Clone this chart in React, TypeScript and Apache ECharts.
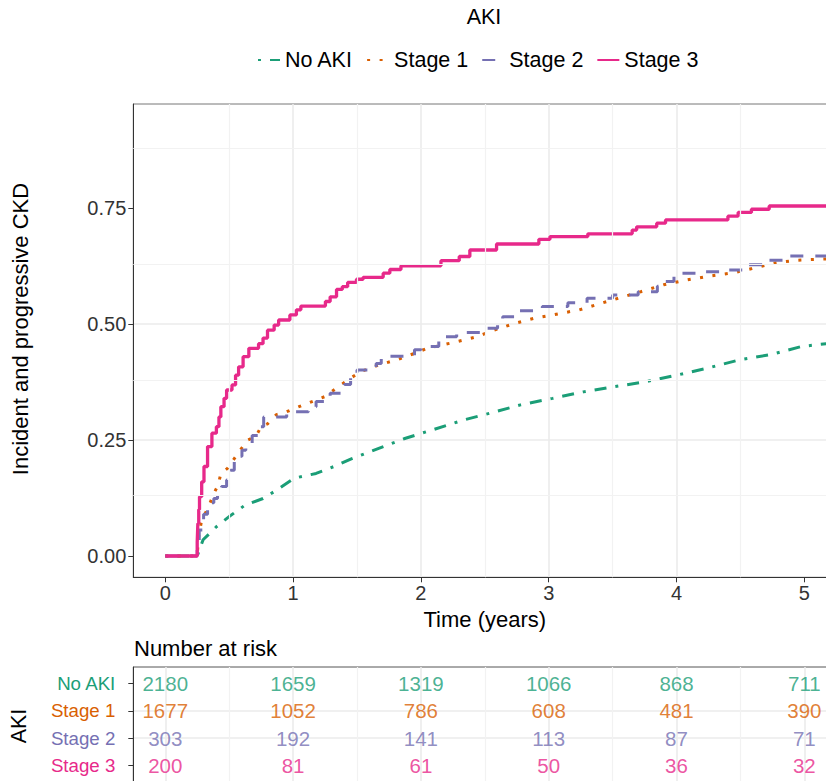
import React, { useEffect, useRef } from 'react';
import * as echarts from 'echarts';

const FONT = '"Liberation Sans", Arial, Helvetica, sans-serif';

const groups = ['No AKI', 'Stage 1', 'Stage 2', 'Stage 3'];
const colors = ['#1B9E77', '#D95F02', '#7570B3', '#E7298A'];

// Cumulative incidence curves (time in years, probability)
const noAkiTime = [0, 0.25, 0.296, 0.4, 0.5, 0.626, 0.765, 0.87, 1.01, 1.18, 1.32, 1.46, 1.67, 1.88, 2.09, 2.33, 2.54, 2.78, 3.03, 3.27, 3.51, 3.76, 4.0, 4.24, 4.49, 4.73, 4.98, 5.3];
const noAkiCif = [0, 0, 0.035, 0.063, 0.085, 0.11, 0.124, 0.142, 0.168, 0.178, 0.193, 0.21, 0.232, 0.254, 0.272, 0.293, 0.308, 0.326, 0.34, 0.354, 0.365, 0.376, 0.39, 0.405, 0.423, 0.434, 0.452, 0.462];

const stage1Time = [0, 0.25, 0.26, 0.28, 0.31, 0.35, 0.38, 0.414, 0.435, 0.487, 0.54, 0.578, 0.644, 0.709, 0.75, 0.8, 0.87, 0.93, 1.01, 1.11, 1.25, 1.34, 1.43, 1.53, 1.67, 1.81, 1.95, 2.05, 2.23, 2.44, 2.57, 2.75, 2.89, 3.03, 3.24, 3.41, 3.58, 3.72, 3.9, 4.07, 4.24, 4.45, 4.59, 4.77, 4.94, 5.1, 5.3];
const stage1Cif = [0, 0, 0.04, 0.07, 0.09, 0.114, 0.135, 0.153, 0.178, 0.189, 0.21, 0.225, 0.25, 0.258, 0.279, 0.285, 0.305, 0.309, 0.318, 0.329, 0.344, 0.362, 0.38, 0.398, 0.412, 0.423, 0.437, 0.448, 0.459, 0.473, 0.487, 0.503, 0.513, 0.52, 0.531, 0.545, 0.559, 0.57, 0.585, 0.595, 0.603, 0.611, 0.62, 0.632, 0.638, 0.64, 0.642];

const stage2Time = [0, 0.25, 0.266, 0.3, 0.331, 0.36, 0.38, 0.409, 0.44, 0.48, 0.51, 0.54, 0.565, 0.6, 0.63, 0.68, 0.73, 0.77, 0.95, 1.12, 1.18, 1.25, 1.29, 1.4, 1.45, 1.5, 1.65, 1.69, 1.95, 2.0, 2.14, 2.16, 2.28, 2.48, 2.6, 2.64, 2.76, 2.95, 3.15, 3.3, 3.5, 3.7, 3.85, 3.9, 3.98, 4.15, 4.36, 4.54, 4.7, 4.88, 5.3];
const stage2Cif = [0, 0.02, 0.056, 0.09, 0.1, 0.115, 0.124, 0.131, 0.15, 0.164, 0.185, 0.207, 0.215, 0.228, 0.243, 0.26, 0.279, 0.3, 0.311, 0.322, 0.333, 0.343, 0.351, 0.37, 0.385, 0.401, 0.415, 0.431, 0.445, 0.452, 0.465, 0.473, 0.482, 0.491, 0.505, 0.516, 0.529, 0.538, 0.546, 0.556, 0.563, 0.57, 0.582, 0.592, 0.61, 0.613, 0.617, 0.628, 0.638, 0.647, 0.647];

const stage3Time = [0, 0.25, 0.255, 0.262, 0.268, 0.285, 0.303, 0.331, 0.365, 0.4, 0.42, 0.435, 0.46, 0.48, 0.522, 0.55, 0.574, 0.609, 0.654, 0.73, 0.765, 0.8, 0.852, 0.887, 0.975, 1.026, 1.061, 1.253, 1.29, 1.34, 1.385, 1.427, 1.496, 1.548, 1.705, 1.757, 1.844, 2.157, 2.3, 2.383, 2.592, 2.923, 3.01, 3.306, 3.653, 3.688, 3.845, 3.914, 4.402, 4.482, 4.586, 4.725, 5.3];
const stage3Cif = [0, 0.03, 0.07, 0.1, 0.128, 0.16, 0.193, 0.236, 0.265, 0.279, 0.3, 0.322, 0.34, 0.358, 0.369, 0.39, 0.408, 0.43, 0.448, 0.458, 0.47, 0.487, 0.498, 0.509, 0.52, 0.531, 0.539, 0.549, 0.559, 0.575, 0.581, 0.59, 0.597, 0.601, 0.61, 0.618, 0.626, 0.637, 0.646, 0.66, 0.673, 0.683, 0.689, 0.695, 0.703, 0.71, 0.718, 0.725, 0.733, 0.741, 0.748, 0.755, 0.755];

// Number at risk table
const riskTimes = [0, 1, 2, 3, 4, 5];
const riskNoAki = [2180, 1659, 1319, 1066, 868, 711];
const riskStage1 = [1677, 1052, 786, 608, 481, 390];
const riskStage2 = [303, 192, 141, 113, 87, 71];
const riskStage3 = [200, 81, 61, 50, 36, 32];

// Tick values and minor grid positions
const xTicks = [0, 1, 2, 3, 4, 5];
const yTicks = [0, 0.25, 0.5, 0.75];
const rowTicks = [0, 1, 2, 3];
const yMinorGrid = [0.125, 0.375, 0.625, 0.875];
const xMinorGrid = [0.5, 1.5, 2.5, 3.5, 4.5];

export default function App() {
  const ref = useRef<HTMLDivElement>(null);

  useEffect(() => {
    const chart = echarts.init(ref.current!, null, { renderer: 'svg' });

    const curves = [
      { t: noAkiTime, v: noAkiCif, dash: [3, 9, 12, 9], step: false, width: 3 },
      { t: stage1Time, v: stage1Cif, dash: [3, 9.5], step: false, width: 3 },
      { t: stage2Time, v: stage2Cif, dash: [13, 12], step: true, width: 3 },
      { t: stage3Time, v: stage3Cif, dash: 'solid', step: true, width: 3.3 },
    ];
    const risks = [riskNoAki, riskStage1, riskStage2, riskStage3];

    const lineSeries = curves.map((c, i) => ({
      type: 'line',
      name: groups[i],
      xAxisIndex: 0,
      yAxisIndex: 0,
      data: c.t.map((t, j) => [t, c.v[j]]),
      step: c.step ? 'end' : false,
      symbol: 'none',
      showSymbol: false,
      z: 3,
      lineStyle: { color: colors[i], width: c.width, type: c.dash, cap: 'butt' },
      itemStyle: { color: colors[i] },
      emphasis: { disabled: true },
    }));

    const riskSeries = risks.map((r, i) => ({
      type: 'scatter',
      name: 'risk ' + groups[i],
      xAxisIndex: 1,
      yAxisIndex: 1,
      data: riskTimes.map((t, j) => [t, i, r[j]]),
      symbol: 'circle',
      symbolSize: 1,
      itemStyle: { color: 'rgba(0,0,0,0)' },
      label: {
        show: true,
        position: 'inside',
        formatter: (p: any) => String(p.value[2]),
        color: colors[i],
        fontSize: 20.5,
        fontFamily: FONT,
      },
      emphasis: { disabled: true },
      silent: true,
    }));

    const minorLine = { color: '#F2F2F2', width: 1.2, type: 'solid' };

    const gridSeries = [
      {
        type: 'line',
        xAxisIndex: 0,
        yAxisIndex: 0,
        data: [],
        z: 1,
        silent: true,
        markLine: {
          silent: true,
          symbol: ['none', 'none'],
          label: { show: false },
          lineStyle: minorLine,
          emphasis: { disabled: true },
          data: [...yMinorGrid.map((v) => ({ yAxis: v })), ...xMinorGrid.map((v) => ({ xAxis: v }))],
        },
      },
      {
        type: 'line',
        xAxisIndex: 1,
        yAxisIndex: 1,
        data: [],
        z: 1,
        silent: true,
        markLine: {
          silent: true,
          symbol: ['none', 'none'],
          label: { show: false },
          lineStyle: minorLine,
          emphasis: { disabled: true },
          data: xMinorGrid.map((v) => ({ xAxis: v })),
        },
      },
    ];

    const isInt = (v: number) => Math.abs(v - Math.round(v)) < 1e-9;
    const isQuarter = (v: number) => Math.abs(v * 4 - Math.round(v * 4)) < 1e-9;
    const majorSplit = { show: true, showMinLine: false, showMaxLine: false, lineStyle: { color: '#EBEBEB', width: 1.6 } };

    const option: any = {
      animation: false,
      textStyle: { fontFamily: FONT },
      legend: {
        data: groups,
        left: 252,
        top: 44,
        itemWidth: 22,
        itemHeight: 14,
        itemGap: 13,
        itemStyle: { color: 'rgba(0,0,0,0)', borderWidth: 0, opacity: 0 },
        textStyle: { fontSize: 21.5, color: '#000', fontFamily: FONT },
        selectedMode: false,
      },
      grid: [
        { left: 133.3, top: 104, width: 703, height: 473.3, show: true, borderColor: '#777', borderWidth: 1, containLabel: false, outerBoundsMode: 'none' },
        { left: 133.3, top: 667, width: 703, height: 115, show: true, borderColor: '#555', borderWidth: 1, containLabel: false, outerBoundsMode: 'none' },
      ],
      xAxis: [
        {
          type: 'value',
          gridIndex: 0,
          min: -0.25,
          max: 5.25,
          minInterval: 1,
          maxInterval: 1,
          name: 'Time (years)',
          nameLocation: 'middle',
          nameGap: 31,
          nameTextStyle: { fontSize: 22, color: '#000', fontFamily: FONT },
          axisLine: { show: true, onZero: false, lineStyle: { color: '#333', width: 1 } },
          axisTick: { show: true, length: 5, customValues: xTicks, lineStyle: { color: '#333' } },
          axisLabel: {
            fontSize: 20,
            color: '#333',
            margin: 6,
            fontFamily: FONT,
            formatter: (v: number) => (isInt(v) ? String(Math.round(v)) : ''),
          },
          splitLine: majorSplit,
        },
        {
          type: 'value',
          gridIndex: 1,
          min: -0.25,
          max: 5.25,
          minInterval: 1,
          maxInterval: 1,
          axisLine: { show: false, onZero: false },
          axisTick: { show: false },
          axisLabel: { show: false },
          splitLine: majorSplit,
        },
      ],
      yAxis: [
        {
          type: 'value',
          gridIndex: 0,
          min: -0.046,
          max: 0.975,
          minInterval: 0.25,
          maxInterval: 0.25,
          axisLine: { show: true, onZero: false, lineStyle: { color: '#333', width: 1 } },
          axisTick: { show: true, length: 5, customValues: yTicks, lineStyle: { color: '#333' } },
          axisLabel: {
            fontSize: 20,
            color: '#333',
            margin: 7,
            fontFamily: FONT,
            formatter: (v: number) => (isQuarter(v) && v >= 0 ? v.toFixed(2) : ''),
          },
          splitLine: majorSplit,
        },
        {
          type: 'value',
          gridIndex: 1,
          min: -0.6,
          max: 3.6,
          inverse: true,
          minInterval: 1,
          maxInterval: 1,
          axisLine: { show: true, onZero: false, lineStyle: { color: '#333', width: 1 } },
          axisTick: { show: true, length: 5, customValues: rowTicks, lineStyle: { color: '#333' } },
          axisLabel: {
            margin: 18,
            fontFamily: FONT,
            formatter: (v: number) => {
              const k = Math.round(v);
              if (!isInt(v) || k < 0 || k > 3) return '';
              return '{g' + k + '|' + groups[k] + '}';
            },
            rich: {
              g0: { color: colors[0], fontSize: 18.7, fontFamily: FONT },
              g1: { color: colors[1], fontSize: 18.7, fontFamily: FONT },
              g2: { color: colors[2], fontSize: 18.7, fontFamily: FONT },
              g3: { color: colors[3], fontSize: 18.7, fontFamily: FONT },
            },
          },
          splitLine: majorSplit,
        },
      ],
      graphic: [
        {
          type: 'text',
          x: 484,
          y: 17,
          style: { text: 'AKI', fontSize: 21.5, fill: '#000', fontFamily: FONT, align: 'center', verticalAlign: 'middle' },
        },
        {
          type: 'text',
          x: 20,
          y: 329,
          rotation: Math.PI / 2,
          style: { text: 'Incident and progressive CKD', fontSize: 22, fill: '#000', fontFamily: FONT, align: 'center', verticalAlign: 'middle' },
        },
        {
          type: 'text',
          x: 134,
          y: 648,
          style: { text: 'Number at risk', fontSize: 22, fill: '#000', fontFamily: FONT, align: 'left', verticalAlign: 'middle' },
        },
        {
          type: 'text',
          x: 19,
          y: 726,
          rotation: Math.PI / 2,
          style: { text: 'AKI', fontSize: 21.5, fill: '#000', fontFamily: FONT, align: 'center', verticalAlign: 'middle' },
        },
      ],
      series: [...gridSeries, ...lineSeries, ...riskSeries],
    };

    chart.setOption(option);
    return () => chart.dispose();
  }, []);

  return <div ref={ref} style={{ position: 'absolute', left: 0, top: 0, width: 826, height: 781 }} />;
}
